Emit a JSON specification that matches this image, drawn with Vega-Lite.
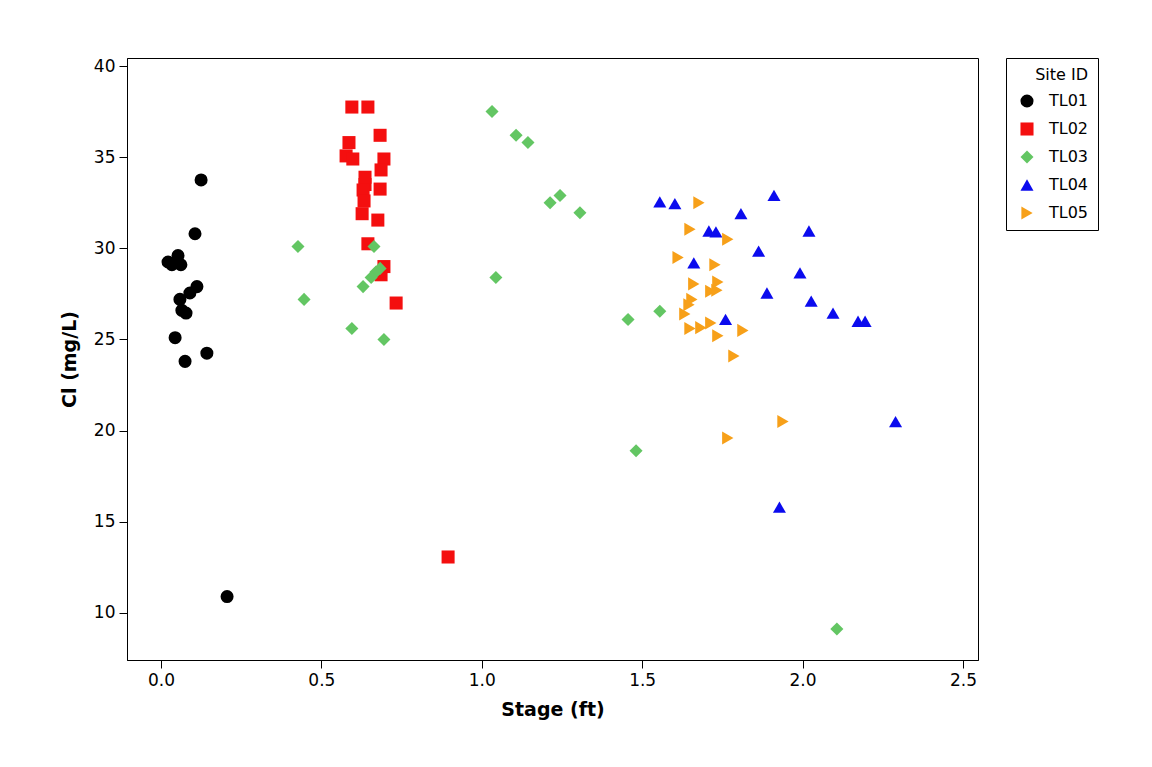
{
  "$schema": "https://vega.github.io/schema/vega-lite/v6.json",
  "width": 851,
  "height": 602,
  "autosize": "none",
  "padding": {"left": 127, "top": 58, "right": 174, "bottom": 107},
  "background": "white",
  "config": {
    "font": "DejaVu Sans",
    "view": {"stroke": "black", "strokeWidth": 1}
  },
  "data": {
    "values": [
      {"site": "TL01", "stage": 0.022, "cl": 29.25},
      {"site": "TL01", "stage": 0.034, "cl": 29.1},
      {"site": "TL01", "stage": 0.053, "cl": 29.6},
      {"site": "TL01", "stage": 0.062, "cl": 29.1},
      {"site": "TL01", "stage": 0.125, "cl": 33.75},
      {"site": "TL01", "stage": 0.106, "cl": 30.8},
      {"site": "TL01", "stage": 0.112, "cl": 27.9},
      {"site": "TL01", "stage": 0.09, "cl": 27.55},
      {"site": "TL01", "stage": 0.059, "cl": 27.2},
      {"site": "TL01", "stage": 0.065, "cl": 26.6},
      {"site": "TL01", "stage": 0.078, "cl": 26.45},
      {"site": "TL01", "stage": 0.044, "cl": 25.1},
      {"site": "TL01", "stage": 0.143, "cl": 24.25},
      {"site": "TL01", "stage": 0.075, "cl": 23.8},
      {"site": "TL01", "stage": 0.206, "cl": 10.9},
      {"site": "TL02", "stage": 0.595, "cl": 37.75},
      {"site": "TL02", "stage": 0.645, "cl": 37.75},
      {"site": "TL02", "stage": 0.586, "cl": 35.8},
      {"site": "TL02", "stage": 0.577, "cl": 35.07},
      {"site": "TL02", "stage": 0.598, "cl": 34.9},
      {"site": "TL02", "stage": 0.683, "cl": 36.2},
      {"site": "TL02", "stage": 0.695, "cl": 34.9},
      {"site": "TL02", "stage": 0.686, "cl": 34.3},
      {"site": "TL02", "stage": 0.636, "cl": 33.9},
      {"site": "TL02", "stage": 0.636, "cl": 33.5},
      {"site": "TL02", "stage": 0.63, "cl": 33.2},
      {"site": "TL02", "stage": 0.683, "cl": 33.25},
      {"site": "TL02", "stage": 0.633, "cl": 32.6},
      {"site": "TL02", "stage": 0.627, "cl": 31.9},
      {"site": "TL02", "stage": 0.676, "cl": 31.55},
      {"site": "TL02", "stage": 0.645, "cl": 30.25},
      {"site": "TL02", "stage": 0.695, "cl": 29.0},
      {"site": "TL02", "stage": 0.686, "cl": 28.55},
      {"site": "TL02", "stage": 0.733, "cl": 27.0},
      {"site": "TL02", "stage": 0.895, "cl": 13.07},
      {"site": "TL03", "stage": 1.032, "cl": 37.5},
      {"site": "TL03", "stage": 1.107, "cl": 36.2},
      {"site": "TL03", "stage": 1.144, "cl": 35.8},
      {"site": "TL03", "stage": 1.244, "cl": 32.9},
      {"site": "TL03", "stage": 1.213, "cl": 32.5},
      {"site": "TL03", "stage": 1.306, "cl": 31.95},
      {"site": "TL03", "stage": 0.427, "cl": 30.1},
      {"site": "TL03", "stage": 0.664, "cl": 30.1},
      {"site": "TL03", "stage": 1.044, "cl": 28.4},
      {"site": "TL03", "stage": 0.683, "cl": 28.9},
      {"site": "TL03", "stage": 0.67, "cl": 28.7},
      {"site": "TL03", "stage": 0.655, "cl": 28.4},
      {"site": "TL03", "stage": 0.63, "cl": 27.9},
      {"site": "TL03", "stage": 0.446, "cl": 27.2},
      {"site": "TL03", "stage": 0.595, "cl": 25.6},
      {"site": "TL03", "stage": 0.695, "cl": 25.0},
      {"site": "TL03", "stage": 1.456, "cl": 26.1},
      {"site": "TL03", "stage": 1.555, "cl": 26.55},
      {"site": "TL03", "stage": 1.481, "cl": 18.9},
      {"site": "TL03", "stage": 2.107, "cl": 9.12},
      {"site": "TL04", "stage": 1.555, "cl": 32.55},
      {"site": "TL04", "stage": 1.602, "cl": 32.45},
      {"site": "TL04", "stage": 1.808, "cl": 31.9},
      {"site": "TL04", "stage": 1.911, "cl": 32.9},
      {"site": "TL04", "stage": 1.708, "cl": 30.95},
      {"site": "TL04", "stage": 1.73, "cl": 30.9},
      {"site": "TL04", "stage": 2.02, "cl": 30.95},
      {"site": "TL04", "stage": 1.661, "cl": 29.2},
      {"site": "TL04", "stage": 1.863, "cl": 29.85},
      {"site": "TL04", "stage": 1.992, "cl": 28.65},
      {"site": "TL04", "stage": 1.889, "cl": 27.55},
      {"site": "TL04", "stage": 2.027, "cl": 27.1},
      {"site": "TL04", "stage": 2.095, "cl": 26.45},
      {"site": "TL04", "stage": 1.76, "cl": 26.1},
      {"site": "TL04", "stage": 2.173, "cl": 26.0},
      {"site": "TL04", "stage": 2.195, "cl": 26.0},
      {"site": "TL04", "stage": 2.29, "cl": 20.5},
      {"site": "TL04", "stage": 1.928, "cl": 15.8},
      {"site": "TL05", "stage": 1.677, "cl": 32.5},
      {"site": "TL05", "stage": 1.649, "cl": 31.05},
      {"site": "TL05", "stage": 1.767, "cl": 30.5},
      {"site": "TL05", "stage": 1.612, "cl": 29.5},
      {"site": "TL05", "stage": 1.727, "cl": 29.1},
      {"site": "TL05", "stage": 1.661, "cl": 28.05},
      {"site": "TL05", "stage": 1.736, "cl": 28.15},
      {"site": "TL05", "stage": 1.714, "cl": 27.65},
      {"site": "TL05", "stage": 1.733, "cl": 27.7},
      {"site": "TL05", "stage": 1.655, "cl": 27.2},
      {"site": "TL05", "stage": 1.646, "cl": 26.9},
      {"site": "TL05", "stage": 1.633, "cl": 26.4},
      {"site": "TL05", "stage": 1.714, "cl": 25.9},
      {"site": "TL05", "stage": 1.649, "cl": 25.6},
      {"site": "TL05", "stage": 1.683, "cl": 25.65},
      {"site": "TL05", "stage": 1.814, "cl": 25.5},
      {"site": "TL05", "stage": 1.736, "cl": 25.2},
      {"site": "TL05", "stage": 1.786, "cl": 24.1},
      {"site": "TL05", "stage": 1.939, "cl": 20.5},
      {"site": "TL05", "stage": 1.767, "cl": 19.6}
    ]
  },
  "mark": {"type": "point", "filled": true, "opacity": 1, "size": 170},
  "encoding": {
    "x": {
      "field": "stage", "type": "quantitative", "title": "Stage (ft)",
      "scale": {"domain": [-0.106, 2.547], "nice": false, "zero": false},
      "axis": {"values": [0, 0.5, 1, 1.5, 2, 2.5], "format": ".1f", "grid": false,
        "domainColor": "black", "tickColor": "black", "labelColor": "black", "labelFontSize": 17,
        "titleFontSize": 19, "titleFontWeight": "bold", "titleColor": "black", "tickSize": 8, "labelPadding": 4, "titlePadding": 12}
    },
    "y": {
      "field": "cl", "type": "quantitative", "title": "Cl (mg/L)",
      "scale": {"domain": [7.42, 40.44], "nice": false, "zero": false},
      "axis": {"values": [10, 15, 20, 25, 30, 35, 40], "grid": false,
        "domainColor": "black", "tickColor": "black", "labelColor": "black", "labelFontSize": 17,
        "titleFontSize": 19, "titleFontWeight": "bold", "titleColor": "black", "tickSize": 8, "labelPadding": 4, "titlePadding": 14}
    },
    "color": {
      "field": "site", "type": "nominal", "title": "Site ID",
      "scale": {"domain": ["TL01", "TL02", "TL03", "TL04", "TL05"],
        "range": ["#000000", "#f40f0f", "#63c663", "#0b0bee", "#f7a019"]},
      "legend": {
        "orient": "none", "legendX": 879, "legendY": 0,
        "strokeColor": "black", "fillColor": "white", "padding": 9,
        "titleFontSize": 16, "titleFontWeight": "normal", "titleColor": "black",
        "titleAnchor": "end", "titlePadding": 10,
        "labelFontSize": 16, "labelColor": "black", "symbolSize": 170,
        "rowPadding": 12, "labelOffset": 14, "symbolOffset": 4
      }
    },
    "shape": {
      "field": "site", "type": "nominal", "title": "Site ID",
      "scale": {"domain": ["TL01", "TL02", "TL03", "TL04", "TL05"],
        "range": ["circle", "square", "diamond", "triangle-up", "triangle-right"]}
    }
  }
}
